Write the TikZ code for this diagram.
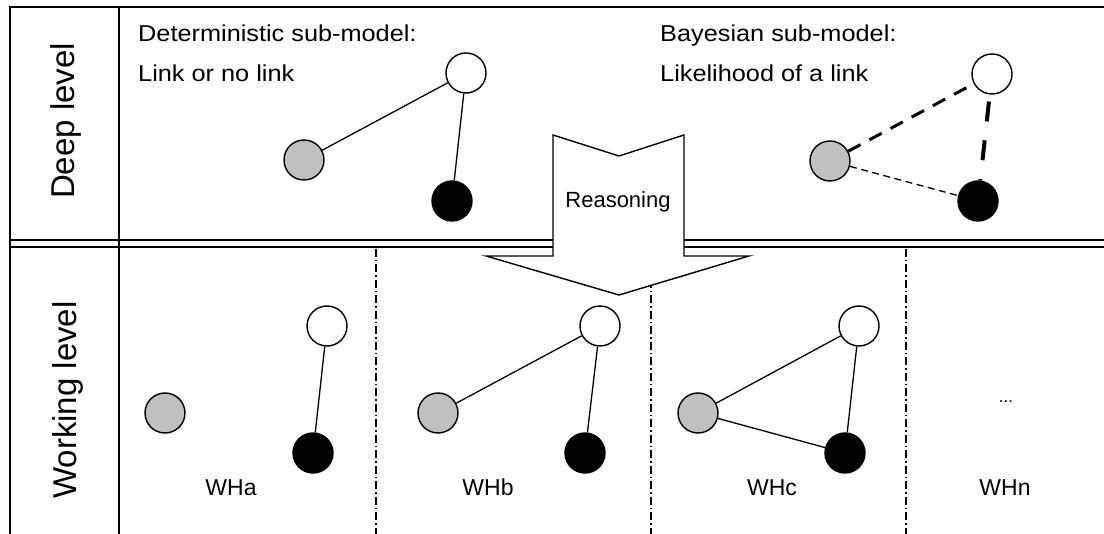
\documentclass[tikz,border=0pt]{standalone}
\usepackage{fontspec}
\setmainfont{Liberation Sans}
\newfontfamily\stretchfont[FakeStretch=1.1]{Liberation Sans}
\definecolor{lgray}{RGB}{192,192,192}
\begin{document}
\begin{tikzpicture}[x=1pt,y=-1pt,
  frameline/.style={line width=1.8pt},
  dblline/.style={line width=1.3pt},
  nd/.style={circle, draw, line width=1.4pt, minimum size=40pt, inner sep=0pt},
  wnode/.style={nd, fill=white},
  gnode/.style={nd, fill=lgray},
  bnode/.style={nd, fill=black},
  edgeline/.style={line width=1.3pt},
  sepline/.style={line width=1.2pt, dash pattern=on 8pt off 3pt on 1.5pt off 3pt},
  toplabel/.style={anchor=base west, inner sep=0pt, font=\stretchfont\fontsize{23}{28}\selectfont},
  sidelabel/.style={rotate=90, anchor=base, inner sep=0pt, font=\fontsize{33}{40}\selectfont},
  whlabel/.style={anchor=base, inner sep=0pt, font=\fontsize{23}{28}\selectfont},
  thickdash/.style={line width=3pt, dash pattern=on 14pt off 10pt},
  heavydash/.style={line width=4pt, dash pattern=on 20pt off 19pt, dash phase=32pt},
  thindash/.style={line width=1.3pt, dash pattern=on 7pt off 4.5pt}
]
\useasboundingbox (0,0) rectangle (1104,534);
\fill[white] (0,0) rectangle (1104,534);

% frame
\draw[frameline] (1104,7) -- (10,7) -- (10,534);
\draw[frameline] (119,7) -- (119,534);
\draw[dblline] (10,240) -- (1104,240);
\draw[dblline] (10,247) -- (1104,247);

% separators
\draw[sepline] (376,249) -- (376,534);
\draw[sepline] (651,249) -- (651,534);
\draw[sepline] (906,249) -- (906,534);

% reasoning arrow
\draw[line width=1.4pt, fill=white, line join=miter]
  (553,135) -- (619,156) -- (684,135) -- (684,256) -- (749,256) -- (619,295)
  -- (486,256) -- (553,256) -- cycle;
\node[anchor=base, inner sep=0pt, font=\fontsize{22}{26}\selectfont] (reason) at (618,208) {Reasoning};

% side labels
\node[sidelabel] (deep) at (74,121) {Deep level};
\node[sidelabel] (work) at (76,400) {Working level};

% top labels
\node[toplabel] (det1) at (138,42) {Deterministic sub-model:};
\node[toplabel] (det2) at (138,82) {Link or no link};
\node[toplabel] (bay1) at (660,42) {Bayesian sub-model:};
\node[toplabel] (bay2) at (660,82) {Likelihood of a link};

% deterministic graph
\node[wnode] (dw) at (466,73) {};
\node[gnode] (dg) at (304,160) {};
\node[bnode] (db) at (452,201) {};
\draw[edgeline] (dg) -- (dw);
\draw[edgeline] (dw) -- (db);

% bayesian graph
\node[wnode] (bw) at (992,74) {};
\node[gnode] (bg) at (830,161) {};
\node[bnode] (bb) at (978,201) {};
\draw[thickdash] (bg) -- (bw);
\draw[heavydash] (bw) -- (bb);
\draw[thindash] (bg) -- (bb);

% WHa
\node[wnode] (aw) at (327,326) {};
\node[gnode] (ag) at (165,413) {};
\node[bnode] (ab) at (313,453) {};
\draw[edgeline] (aw) -- (ab);
\node[whlabel] (wha) at (231,496) {WHa};

% WHb
\node[wnode] (bbw) at (600,326) {};
\node[gnode] (bbg) at (438,413) {};
\node[bnode] (bbb) at (585,453) {};
\draw[edgeline] (bbg) -- (bbw);
\draw[edgeline] (bbw) -- (bbb);
\node[whlabel] (whb) at (488,496) {WHb};

% WHc
\node[wnode] (cw) at (859,326) {};
\node[gnode] (cg) at (698,413) {};
\node[bnode] (cb) at (845,453) {};
\draw[edgeline] (cg) -- (cw);
\draw[edgeline] (cw) -- (cb);
\draw[edgeline] (cg) -- (cb);
\node[whlabel] (whc) at (772,496) {WHc};

% WHn
\node[anchor=base, inner sep=0pt, font=\fontsize{17}{20}\selectfont] (dots) at (1006,403) {...};
\node[whlabel] (whn) at (1005,496) {WHn};
\end{tikzpicture}
\end{document}
